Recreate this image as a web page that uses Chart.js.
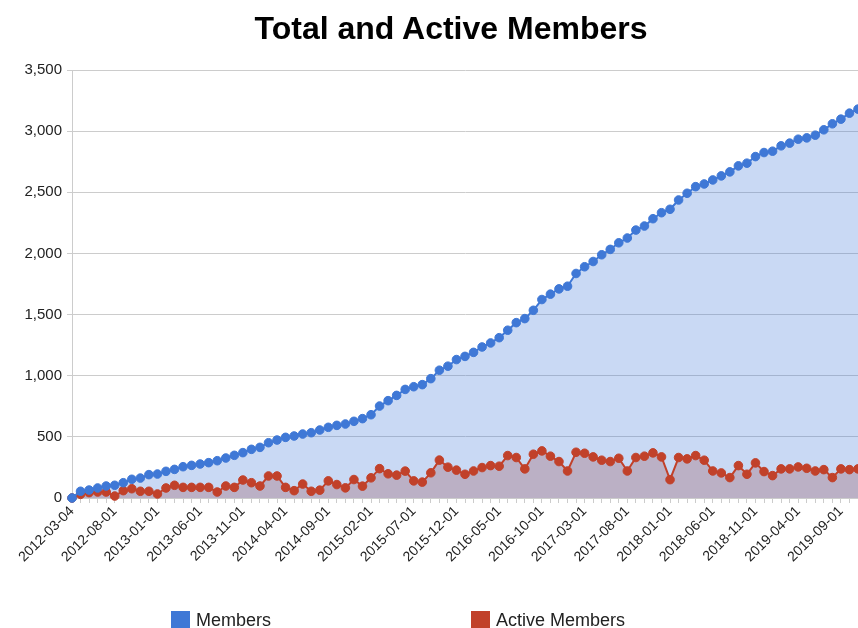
<!DOCTYPE html>
<html>
<head>
<meta charset="utf-8">
<script src="https://cdn.jsdelivr.net/npm/chart.js@4"></script>
<style>
    body { margin: 0; background: #fff; font-family: 'Liberation Sans', Arial, sans-serif; }
    #wrap { position: relative; width: 858px; height: 628px; overflow: hidden; }
    #chartTitle { position: absolute; left: 22px; top: 12px; width: 858px; text-align: center; font-size: 32px; font-weight: bold; line-height: 32px; color: #000; }
    .legend-item { position: absolute; top: 610px; display: flex; align-items: center; font-size: 18px; color: #222; }
    .legend-box { width: 19px; height: 19px; margin-right: 6px; }
</style>
</head>
<body>
<div id="wrap">
    <canvas id="membersChart" width="858" height="628"></canvas>
    <div id="chartTitle">Total and Active Members</div>
    <div class="legend-item" style="left:171px"><span class="legend-box" style="background:#3f78d6"></span>Members</div>
    <div class="legend-item" style="left:471px"><span class="legend-box" style="background:#c1412a"></span>Active Members</div>
</div>
<script>
// Monthly snapshots
const months = [
    '2012-03-04', '2012-04-01', '2012-05-01', '2012-06-01', '2012-07-01', '2012-08-01', '2012-09-01', '2012-10-01', '2012-11-01', '2012-12-01',
    '2013-01-01', '2013-02-01', '2013-03-01', '2013-04-01', '2013-05-01', '2013-06-01', '2013-07-01', '2013-08-01', '2013-09-01', '2013-10-01', '2013-11-01', '2013-12-01',
    '2014-01-01', '2014-02-01', '2014-03-01', '2014-04-01', '2014-05-01', '2014-06-01', '2014-07-01', '2014-08-01', '2014-09-01', '2014-10-01', '2014-11-01', '2014-12-01',
    '2015-01-01', '2015-02-01', '2015-03-01', '2015-04-01', '2015-05-01', '2015-06-01', '2015-07-01', '2015-08-01', '2015-09-01', '2015-10-01', '2015-11-01', '2015-12-01',
    '2016-01-01', '2016-02-01', '2016-03-01', '2016-04-01', '2016-05-01', '2016-06-01', '2016-07-01', '2016-08-01', '2016-09-01', '2016-10-01', '2016-11-01', '2016-12-01',
    '2017-01-01', '2017-02-01', '2017-03-01', '2017-04-01', '2017-05-01', '2017-06-01', '2017-07-01', '2017-08-01', '2017-09-01', '2017-10-01', '2017-11-01', '2017-12-01',
    '2018-01-01', '2018-02-01', '2018-03-01', '2018-04-01', '2018-05-01', '2018-06-01', '2018-07-01', '2018-08-01', '2018-09-01', '2018-10-01', '2018-11-01', '2018-12-01',
    '2019-01-01', '2019-02-01', '2019-03-01', '2019-04-01', '2019-05-01', '2019-06-01', '2019-07-01', '2019-08-01', '2019-09-01', '2019-10-01', '2019-11-01'
];

const members = [
    0, 55, 65, 82, 98, 104, 125, 153, 163, 191,
    196, 218, 234, 256, 267, 278, 289, 305, 327, 349,
    371, 398, 414, 452, 474, 496, 507, 523, 534, 556,
    578, 594, 605, 627, 649, 681, 752, 796, 839, 888,
    910, 927, 976, 1045, 1078, 1132, 1158, 1191, 1235, 1268,
    1311, 1372, 1434, 1467, 1535, 1623, 1667, 1710, 1732, 1836,
    1891, 1934, 1989, 2033, 2087, 2126, 2191, 2224, 2284, 2333,
    2361, 2437, 2492, 2546, 2568, 2601, 2634, 2667, 2716, 2738,
    2792, 2825, 2836, 2880, 2902, 2934, 2945, 2967, 3011, 3060,
    3098, 3147, 3180
];

const activeMembers = [
    0, 30, 44, 49, 49, 16, 60, 76, 55, 55,
    33, 82, 104, 87, 87, 87, 87, 49, 98, 87,
    147, 125, 98, 180, 180, 87, 60, 114, 55, 64,
    140, 110, 83, 151, 97, 165, 240, 198, 187, 220,
    140, 130, 206, 310, 252, 228, 194, 221, 249, 265,
    260, 347, 331, 238, 358, 385, 342, 298, 221, 374,
    366, 336, 309, 298, 325, 221, 331, 342, 369, 336,
    150, 331, 320, 347, 309, 221, 205, 167, 265, 194,
    287, 216, 183, 238, 238, 254, 243, 221, 232, 167,
    238, 232, 238
];

const yTicks = [0, 500, 1000, 1500, 2000, 2500, 3000, 3500];
const labelEvery = 5;

const BLUE = '#3f78d6';
const RED = '#c1412a';
const GRID = '#cccccc';

const ctx = document.getElementById('membersChart').getContext('2d');
new Chart(ctx, {
    type: 'line',
    data: {
        labels: months,
        datasets: [
            {
                label: 'Members',
                data: members,
                borderColor: BLUE,
                backgroundColor: 'rgba(60,120,216,0.28)',
                pointBackgroundColor: BLUE,
                pointBorderColor: BLUE,
                borderWidth: 2,
                pointRadius: 4.3,
                pointBorderWidth: 1,
                fill: 'origin',
                tension: 0
            },
            {
                label: 'Active Members',
                data: activeMembers,
                borderColor: RED,
                backgroundColor: 'rgba(191,65,39,0.3)',
                pointBackgroundColor: RED,
                pointBorderColor: RED,
                borderWidth: 2,
                pointRadius: 4.3,
                pointBorderWidth: 1,
                fill: 'origin',
                tension: 0
            }
        ]
    },
    options: {
        responsive: false,
        animation: false,
        clip: false,
        layout: { autoPadding: false, padding: { top: 70, right: 0, bottom: 0, left: 0 } },
        plugins: {
            legend: { display: false },
            title: { display: false },
            tooltip: { enabled: false },
            filler: { drawTime: 'beforeDatasetsDraw' }
        },
        scales: {
            x: {
                afterFit: (scale) => {
                    scale.height = 130;
                    scale.paddingLeft = 0;
                    scale.paddingRight = 0;
                },
                grid: { drawOnChartArea: false, color: GRID, tickLength: 5 },
                border: { color: GRID },
                ticks: {
                    autoSkip: false,
                    maxRotation: 45,
                    minRotation: 45,
                    padding: 0,
                    color: '#222',
                    font: { family: "'Liberation Sans', Arial, sans-serif", size: 14 },
                    callback: function (value, index) {
                        return index % labelEvery === 0 ? months[index] : '';
                    }
                }
            },
            y: {
                min: yTicks[0],
                max: yTicks[yTicks.length - 1],
                afterFit: (scale) => {
                    scale.width = 72;
                    scale.paddingTop = 0;
                    scale.paddingBottom = 0;
                },
                afterBuildTicks: (scale) => { scale.ticks = yTicks.map(v => ({ value: v })); },
                grid: { color: GRID, tickLength: 5 },
                border: { display: true, color: GRID },
                ticks: {
                    padding: 5,
                    color: '#222',
                    font: { family: "'Liberation Sans', Arial, sans-serif", size: 15 },
                    callback: (v) => v.toLocaleString('en-US')
                }
            }
        }
    }
});
</script>
</body>
</html>
